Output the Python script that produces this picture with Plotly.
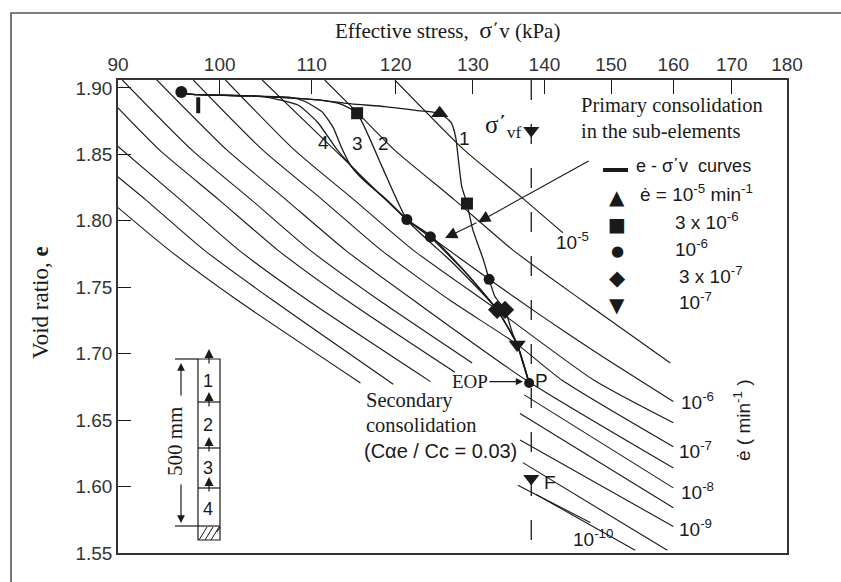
import numpy as np
import plotly.graph_objects as go

SANS = "Liberation Sans, Arial, sans-serif"
SERIF = "Liberation Serif, Times New Roman, serif"
INK = "#1a1a1a"

# ---------------- axes ----------------
stress_ticks = [90, 100, 110, 120, 130, 140, 150, 160, 170, 180]
void_ticks = [1.55, 1.60, 1.65, 1.70, 1.75, 1.80, 1.85, 1.90]
void_ticktext = ["1.55", "1.60", "1.65", "1.70", "1.75", "1.80", "1.85", "1.90"]
stress_range = [90, 180]
void_range = [1.55, 1.906]

# ---------------- isotaches (σ'v in kPa, e); None = break in the line ----------------
iso_1e5_s = [119.9, 128.9, 137.1, 142.7]
iso_1e5_e = [1.906, 1.853, 1.816, 1.791]

iso_3e6_s = [111.5, 115.4, 119.9, 127.5, 135.5, 145.6, 159.5]
iso_3e6_e = [1.906, 1.881, 1.853, 1.816, 1.778, 1.740, 1.693]

iso_1e6_s = [104.5, 112.7, 121.4, 124.4, 132.2, 139.4, 148.3, 160.0]
iso_1e6_e = [1.906, 1.853, 1.801, 1.788, 1.756, 1.729, 1.699, 1.664]

iso_3e7_s = [100.6, 108.1, 114.9, 122.2, 133.3, 147.4, 160.0]
iso_3e7_e = [1.906, 1.853, 1.816, 1.778, 1.733, 1.680, 1.648]

iso_1e7_s = [97.3, 104.6, 111.2, 118.2, 127.0, 136.1, 142.6, 160.0]
iso_1e7_e = [1.906, 1.853, 1.816, 1.778, 1.740, 1.707, 1.680, 1.630]

iso_3e8_s = [93.7, 100.8, 107.1, 113.9, 122.3, 137.4, 160.0]
iso_3e8_e = [1.906, 1.853, 1.816, 1.778, 1.740, 1.680, 1.614]

iso_1e8_s = [90.4, 97.2, 103.3, 109.8, 118.0, 129.9, None, 137.1, 160.0]
iso_1e8_e = [1.906, 1.853, 1.816, 1.778, 1.740, 1.693, None, 1.669, 1.599]

iso_3e9_s = [90.0, 94.0, 99.9, 106.2, 114.1, 127.6, None, 136.5, 160.0]
iso_3e9_e = [1.885, 1.853, 1.816, 1.778, 1.740, 1.686, None, 1.655, 1.584]

iso_1e9_s = [90.0, 96.0, 102.0, 109.6, 124.4, None, 136.5, 160.0]
iso_1e9_e = [1.856, 1.816, 1.778, 1.740, 1.679, None, 1.635, 1.570]

iso_3e10_s = [90.0, 92.6, 98.4, 105.7, 119.7, None, 136.9, 159.0]
iso_3e10_e = [1.833, 1.816, 1.778, 1.740, 1.677, None, 1.618, 1.552]

iso_1e10_s = [90.0, 94.9, 101.9, 115.7, None, 136.2, 146.8]
iso_1e10_e = [1.810, 1.778, 1.740, 1.678, None, 1.601, 1.573]

iso_low_s = [138.8, 153.8]
iso_low_e = [1.594, 1.552]

# ---------------- e - σ'v paths of the four sub-elements ----------------
path1_s = [96.1, 97.8, 103.3, 110.7, 114.6, 118.7, 122.8, 125.6, 127.1, 127.7, 128.1,
           128.5, 129.2, 130.0, 131.4, 132.2, 133.0, 134.4, 135.4, 136.1, 136.9, 137.8]
path1_e = [1.896, 1.895, 1.894, 1.891, 1.888, 1.886, 1.883, 1.881, 1.874, 1.863, 1.844,
           1.826, 1.813, 1.793, 1.771, 1.756, 1.743, 1.733, 1.716, 1.707, 1.693, 1.678]

path2_s = [96.1, 97.8, 103.3, 110.7, 113.3, 115.3, 118.3, 121.4, 127.2, 133.3, 136.1, 137.8]
path2_e = [1.896, 1.895, 1.894, 1.891, 1.888, 1.881, 1.841, 1.801, 1.769, 1.733, 1.707, 1.678]

path3_s = [96.1, 97.8, 103.3, 107.6, 109.2, 111.2, 112.5, 113.4, 114.5, 115.7, 117.1,
           118.8, 121.6, 124.5, 129.2, 133.3, 136.1, 137.8]
path3_e = [1.896, 1.895, 1.894, 1.893, 1.890, 1.882, 1.870, 1.856, 1.842, 1.833, 1.825,
           1.816, 1.800, 1.787, 1.760, 1.733, 1.707, 1.678]

path4_s = [96.1, 97.8, 103.3, 105.1, 108.5, 110.7, 113.0, 115.4, 117.0, 118.7, 121.4,
           124.4, 128.9, 133.3, 136.1, 137.8]
path4_e = [1.896, 1.895, 1.894, 1.893, 1.887, 1.874, 1.853, 1.836, 1.826, 1.817, 1.801,
           1.789, 1.762, 1.733, 1.707, 1.678]

path_label_s = [128.9, 118.5, 115.4, 111.4]
path_label_e = [1.862, 1.858, 1.858, 1.859]
path_label_text = ["1", "2", "3", "4"]

# ---------------- strain-rate points on the paths ----------------
rate_1e5_s, rate_1e5_e = [125.6], [1.881]
rate_3e6_s, rate_3e6_e = [115.3, 129.2], [1.881, 1.813]
rate_1e6_s, rate_1e6_e = [121.4, 124.4, 132.2], [1.801, 1.788, 1.756]
rate_3e7_s, rate_3e7_e = [133.3, 134.4], [1.733, 1.733]
rate_1e7_s, rate_1e7_e = [136.1], [1.707]

start_s, start_e = [96.1], [1.897]
initial_bar_s, initial_bar_e = [97.8, 97.8], [1.893, 1.881]
sigma_vf = 138.1
sigma_vf_mark_e = 1.868
eop_s, eop_e = 137.8, 1.678
final_e = 1.606

# ---------------- figure ----------------
fig = go.Figure()

isotaches = [
    (iso_1e5_s, iso_1e5_e), (iso_3e6_s, iso_3e6_e), (iso_1e6_s, iso_1e6_e),
    (iso_3e7_s, iso_3e7_e), (iso_1e7_s, iso_1e7_e), (iso_3e8_s, iso_3e8_e),
    (iso_1e8_s, iso_1e8_e), (iso_3e9_s, iso_3e9_e), (iso_1e9_s, iso_1e9_e),
    (iso_3e10_s, iso_3e10_e), (iso_1e10_s, iso_1e10_e), (iso_low_s, iso_low_e),
]
for s, e in isotaches:
    fig.add_trace(go.Scatter(x=s, y=e, mode="lines", hoverinfo="skip",
                             line=dict(color=INK, width=1.1, shape="spline", smoothing=0.6)))

for s, e in [(path1_s, path1_e), (path2_s, path2_e), (path3_s, path3_e), (path4_s, path4_e)]:
    fig.add_trace(go.Scatter(x=s, y=e, mode="lines", hoverinfo="skip",
                             line=dict(color=INK, width=1.3, shape="spline", smoothing=0.5)))

# final effective stress, dashed
fig.add_trace(go.Scatter(x=[sigma_vf, sigma_vf], y=[void_range[1], void_range[0]], mode="lines",
                         line=dict(color=INK, width=1.3, dash="20px,24px"), hoverinfo="skip"))

fig.add_trace(go.Scatter(x=initial_bar_s, y=initial_bar_e, mode="lines",
                         line=dict(color=INK, width=4), hoverinfo="skip"))


def markers(s, e, symbol, size):
    fig.add_trace(go.Scatter(x=s, y=e, mode="markers", hoverinfo="skip",
                             marker=dict(symbol=symbol, size=size, color=INK, line=dict(width=0))))


markers(rate_1e5_s, rate_1e5_e, "triangle-up", 15)
markers(rate_3e6_s, rate_3e6_e, "square", 12)
markers(rate_1e6_s, rate_1e6_e, "circle", 11)
markers(rate_3e7_s, rate_3e7_e, "diamond", 14)
markers(rate_1e7_s, rate_1e7_e, "triangle-down", 15)
markers(start_s, start_e, "circle", 12)
markers([eop_s], [eop_e], "circle", 10)
markers([sigma_vf, sigma_vf], [sigma_vf_mark_e, final_e], "triangle-down", 14)

# ---------------- layout helpers ----------------
L, T, W, H = 118, 80, 669, 473


def paper(xp, yp):
    return (xp - L) / W, (T + H - yp) / H


notes = []


def note(text, xp, yp, size=18, family=SANS, xanchor="center", angle=0, yanchor="middle"):
    x, y = paper(xp, yp)
    notes.append(dict(text=text, x=x, y=y, xref="paper", yref="paper", showarrow=False,
                      xanchor=xanchor, yanchor=yanchor, textangle=angle,
                      font=dict(family=family, size=size, color=INK)))


# axis titles
note("Effective stress,  <span style='font-size:24px'>σ</span>΄v (kPa)", 447, 30, 21, SERIF)
note("Void ratio, <b>e</b>", 40, 303, 23, SERIF, angle=-90)

# path labels
for s, e, t in zip(path_label_s, path_label_e, path_label_text):
    notes.append(dict(text=t, x=np.log10(s), y=e, xref="x", yref="y", showarrow=False,
                      font=dict(family=SANS, size=19, color=INK)))

# σ'vf label
note("σ΄<sub>vf</sub>", 503, 126, 25, SERIF)

# key
note("Primary consolidation", 579, 105, 20.5, SERIF, xanchor="left")
note("in the sub-elements", 579, 131, 20.5, SERIF, xanchor="left")
note("e - σ΄v  curves", 634, 166, 18, SANS, xanchor="left")
for glyph, yp, sz in [("▲", 197, 20), ("■", 224, 19), ("●", 251, 15), ("◆", 278, 21), ("▼", 305, 20)]:
    note(glyph, 617, yp, sz, "DejaVu Sans")
note("ė = 10<sup>-5</sup> min<sup>-1</sup>", 638, 193, 19, SANS, xanchor="left")
note("3 x 10<sup>-6</sup>", 673, 221, 19, SANS, xanchor="left")
note("10<sup>-6</sup>", 673, 248, 19, SANS, xanchor="left")
note("3 x 10<sup>-7</sup>", 677, 275, 19, SANS, xanchor="left")
note("10<sup>-7</sup>", 677, 301, 19, SANS, xanchor="left")

# isotache rate labels
note("10<sup>-5</sup>", 554, 241, 19, SANS, xanchor="left")
note("10<sup>-6</sup>", 679, 401, 19, SANS, xanchor="left")
note("10<sup>-7</sup>", 677, 450, 19, SANS, xanchor="left")
note("10<sup>-8</sup>", 679, 491, 19, SANS, xanchor="left")
note("10<sup>-9</sup>", 677, 528, 19, SANS, xanchor="left")
note("10<sup>-10</sup>", 571, 538, 19, SANS, xanchor="left")
note("ė ( min<sup>-1</sup> )", 742, 420, 19, SANS, angle=-90)

# points P and F
note("P", 541, 380, 19, SANS)
note("F", 550, 482, 19, SANS)

# secondary consolidation note
note("Secondary", 364, 400, 20.5, SERIF, xanchor="left")
note("consolidation", 364, 425, 20.5, SERIF, xanchor="left")
note("(Cαe / Cc = 0.03)", 362, 451, 20, SANS, xanchor="left")

# EOP arrow
notes.append(dict(text="EOP", x=np.log10(137.2), y=1.679, xref="x", yref="y", showarrow=True,
                  ax=-55, ay=0, arrowhead=2, arrowsize=1.1, arrowwidth=1.3, arrowcolor=INK,
                  standoff=2, font=dict(family=SERIF, size=19, color=INK)))

# arrows from the key to the curves
notes.append(dict(text="", x=np.log10(130.7), y=1.799, xref="x", yref="y", showarrow=True,
                  ax=112, ay=-62, arrowhead=2, arrowsize=2.2, arrowwidth=1.1, arrowcolor=INK))
notes.append(dict(text="", x=np.log10(126.3), y=1.787, xref="x", yref="y", showarrow=True,
                  ax=33, ay=-16, arrowhead=2, arrowsize=2.2, arrowwidth=1.1, arrowcolor=INK))

# ---------------- sub-element column sketch ----------------
shapes = []


def seg(x0p, y0p, x1p, y1p, width=1.2):
    a, b = paper(x0p, y0p)
    c, d = paper(x1p, y1p)
    shapes.append(dict(type="line", xref="paper", yref="paper", x0=a, y0=b, x1=c, y1=d,
                       line=dict(color=INK, width=width)))


def box(x0p, y0p, x1p, y1p, width=1.2, color=INK):
    a, b = paper(x0p, y0p)
    c, d = paper(x1p, y1p)
    shapes.append(dict(type="rect", xref="paper", yref="paper", x0=a, y0=b, x1=c, y1=d,
                       line=dict(color=color, width=width)))


box(198, 359, 220, 540)
for yp in [402, 448, 488, 526]:
    seg(198, yp, 220, yp)
seg(175, 359, 198, 359)
seg(175, 526, 198, 526)
for xs in [199, 205, 211]:
    seg(xs, 540, xs + 8, 527, 1.0)
seg(217, 532, 220, 527, 1.0)

for t, yp in zip(["1", "2", "3", "4"], [381, 425, 468, 509]):
    note(t, 208, yp, 18, SANS)
note("500 mm", 175, 442, 21, SERIF, angle=-90)


def arrow_px(xh, yh, xt, yt, size=1.3):
    x, y = paper(xh, yh)
    notes.append(dict(text="", x=x, y=y, xref="paper", yref="paper", showarrow=True,
                      ax=xt - xh, ay=yt - yh, arrowhead=2, arrowsize=size, arrowwidth=1.2,
                      arrowcolor=INK))


arrow_px(181, 363, 181, 397)
arrow_px(181, 523, 181, 483)
for yh in [349, 392, 437, 477]:
    arrow_px(209, yh, 209, yh + 16, 1.5)

# key line sample
seg(603, 170, 628, 170, 4)

# outer frame of the figure
box(11, 13, 850, 595, 1.6, "#555")

fig.update_layout(
    width=841, height=582,
    margin=dict(l=L, r=841 - L - W, t=T, b=582 - T - H),
    paper_bgcolor="white", plot_bgcolor="white", showlegend=False,
    annotations=notes, shapes=shapes,
    xaxis=dict(type="log", range=[np.log10(stress_range[0]), np.log10(stress_range[1])],
               side="top", tickvals=stress_ticks, ticks="inside", ticklen=14, tickwidth=1.3,
               tickcolor=INK, showline=True, linecolor="#333", linewidth=1.5, mirror=True,
               showgrid=False, zeroline=False,
               tickfont=dict(family=SANS, size=19, color="#333")),
    yaxis=dict(range=void_range, tickvals=void_ticks, ticktext=void_ticktext,
               ticks="inside", ticklen=13, tickwidth=1.3, tickcolor=INK,
               showline=True, linecolor="#333", linewidth=1.5, mirror=True,
               showgrid=False, zeroline=False,
               tickfont=dict(family=SANS, size=19, color="#333")),
)

fig.write_html("out.html")
